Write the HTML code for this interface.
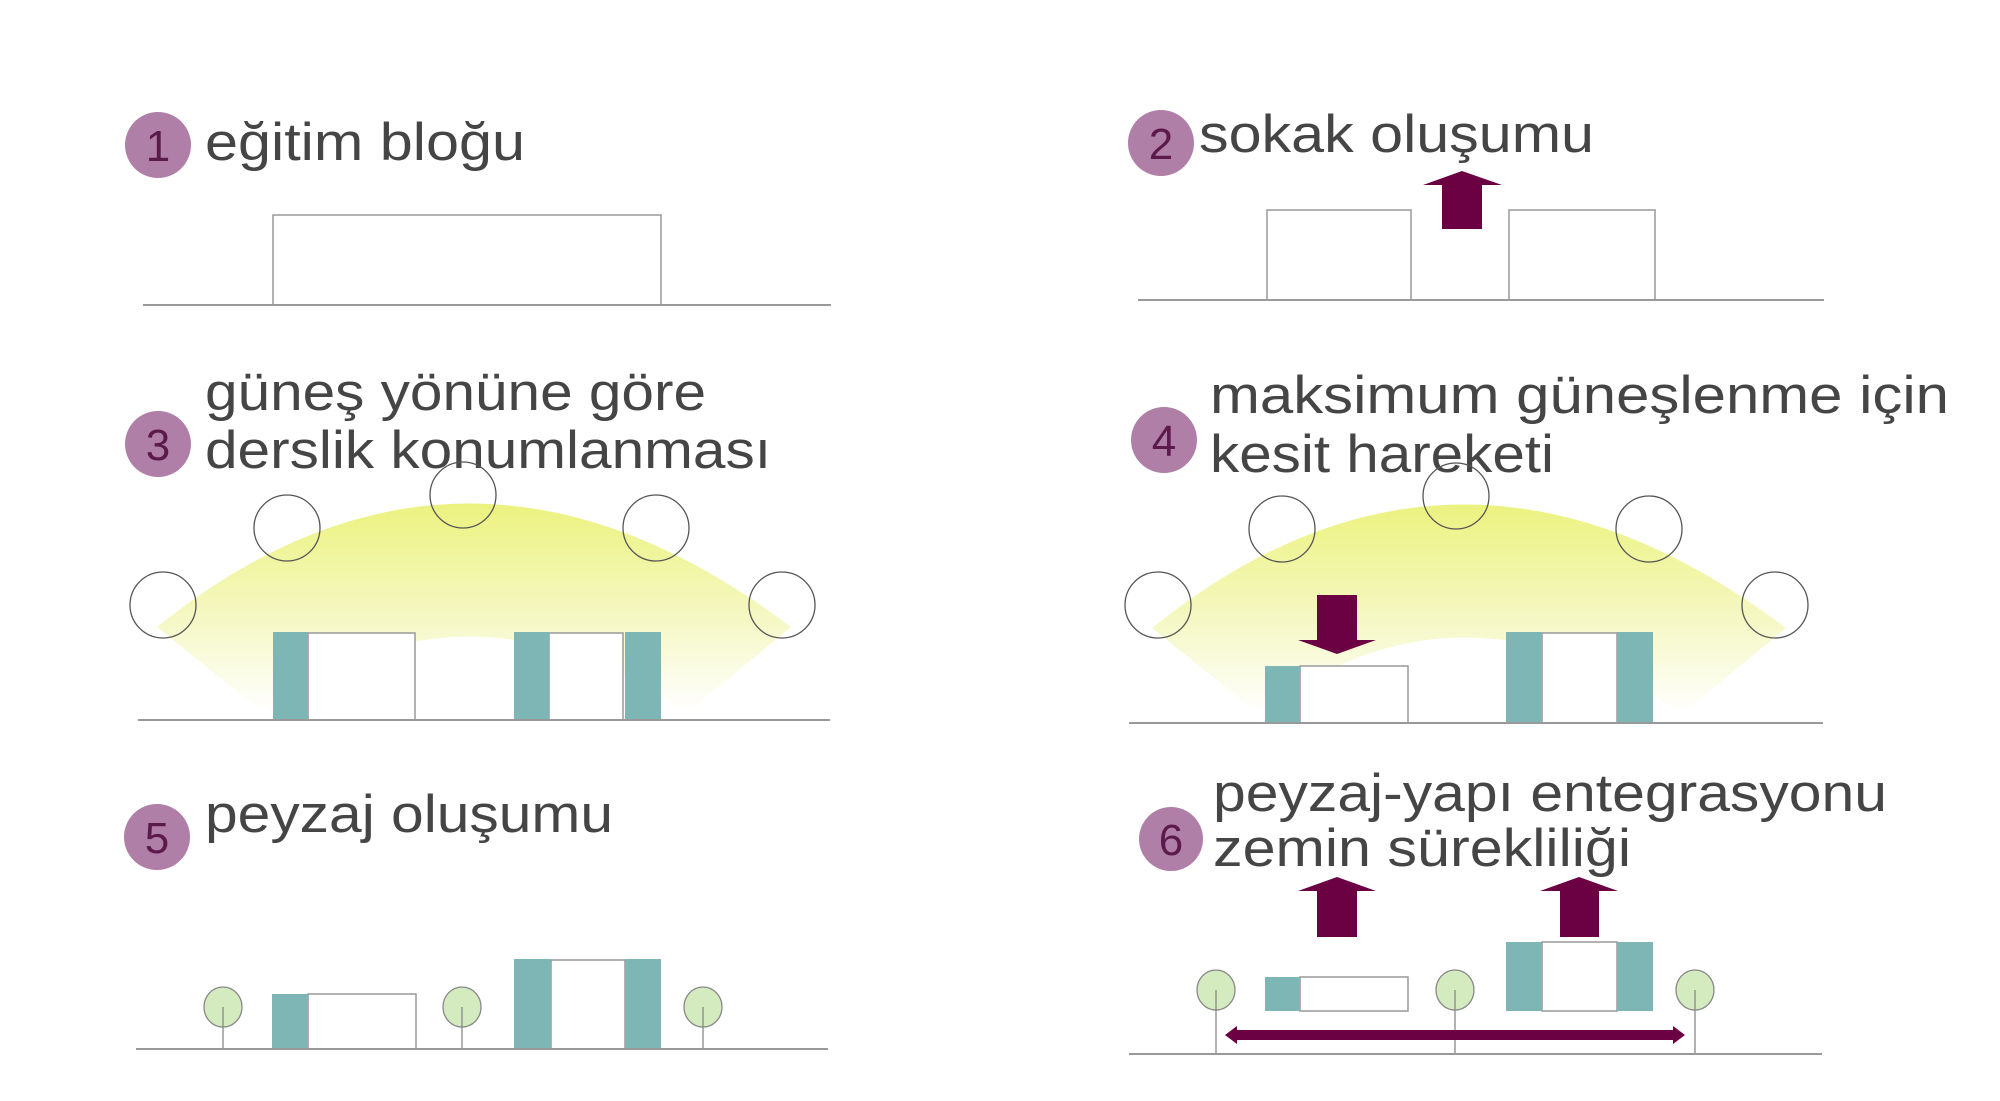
<!DOCTYPE html>
<html><head><meta charset="utf-8"><style>
html,body{margin:0;padding:0;background:#fff;}
svg{display:block;}
text{font-family:"Liberation Sans",sans-serif;fill:#454545;}
.n{fill:#5c1a4c;font-size:44px;text-anchor:middle;}
.t{font-size:53px;}
</style></head><body>
<svg width="2000" height="1101" viewBox="0 0 2000 1101" xmlns="http://www.w3.org/2000/svg">
<defs>
<linearGradient id="g" x1="0" y1="0" x2="0" y2="1">
<stop offset="0" stop-color="#ecf27f"/>
<stop offset="0.55" stop-color="#f5f8c4"/>
<stop offset="1" stop-color="#ffffff"/>
</linearGradient>
<g id="glow">
<path d="M157,627 Q464,380 791,627 L687,713 Q464,560 264,713 Z" fill="url(#g)"/>
</g>
</defs>
<!-- Panel 1 -->
<circle cx="158" cy="145" r="33" fill="#b07fa8"/>
<text class="n" x="158" y="161">1</text>
<text class="t" x="205" y="160" textLength="320" lengthAdjust="spacingAndGlyphs">eğitim bloğu</text>
<rect x="273" y="215" width="388" height="90" fill="#fff" stroke="#999" stroke-width="1.5"/>
<line x1="143" y1="305" x2="831" y2="305" stroke="#999" stroke-width="2"/>

<!-- Panel 2 -->
<circle cx="1161" cy="143" r="33" fill="#b07fa8"/>
<text class="n" x="1161" y="159">2</text>
<text class="t" x="1199" y="152" textLength="395" lengthAdjust="spacingAndGlyphs">sokak oluşumu</text>
<rect x="1267" y="210" width="144" height="90" fill="#fff" stroke="#999" stroke-width="1.5"/>
<rect x="1509" y="210" width="146" height="90" fill="#fff" stroke="#999" stroke-width="1.5"/>
<line x1="1138" y1="300" x2="1824" y2="300" stroke="#999" stroke-width="2"/>
<path d="M1442,229 L1442,185 L1423,185 L1462,171 L1502,185 L1482,185 L1482,229 Z" fill="#6b0042"/>

<!-- Panel 3 -->
<circle cx="158" cy="444" r="33" fill="#b07fa8"/>
<text class="n" x="158" y="460">3</text>
<text class="t" x="205" y="410" textLength="501" lengthAdjust="spacingAndGlyphs">güneş yönüne göre</text>
<text class="t" x="205" y="468" textLength="566" lengthAdjust="spacingAndGlyphs">derslik konumlanması</text>
<use href="#glow"/>
<g fill="none" stroke="#555" stroke-width="1.3">
<circle cx="163" cy="605" r="33"/><circle cx="287" cy="528" r="33"/><circle cx="463" cy="495" r="33"/><circle cx="656" cy="528" r="33"/><circle cx="782" cy="605" r="33"/>
</g>
<rect x="308" y="633" width="107" height="87" fill="#fff" stroke="#999" stroke-width="1.5"/>
<rect x="273" y="632" width="35" height="88" fill="#7eb6b5"/>
<rect x="549" y="633" width="74" height="87" fill="#fff" stroke="#999" stroke-width="1.5"/>
<rect x="514" y="632" width="35" height="88" fill="#7eb6b5"/>
<rect x="625" y="632" width="36" height="88" fill="#7eb6b5"/>
<line x1="138" y1="720" x2="830" y2="720" stroke="#999" stroke-width="2"/>

<!-- Panel 4 -->
<circle cx="1164" cy="440" r="33" fill="#b07fa8"/>
<text class="n" x="1164" y="456">4</text>
<text class="t" x="1210" y="413" textLength="739" lengthAdjust="spacingAndGlyphs">maksimum güneşlenme için</text>
<text class="t" x="1210" y="472" textLength="344" lengthAdjust="spacingAndGlyphs">kesit hareketi</text>
<g transform="translate(995,1)"><use href="#glow"/></g>
<g fill="none" stroke="#555" stroke-width="1.3">
<circle cx="1158" cy="605" r="33"/><circle cx="1282" cy="529" r="33"/><circle cx="1456" cy="496" r="33"/><circle cx="1649" cy="529" r="33"/><circle cx="1775" cy="605" r="33"/>
</g>
<rect x="1300" y="666" width="108" height="57" fill="#fff" stroke="#999" stroke-width="1.5"/>
<rect x="1265" y="666" width="35" height="57" fill="#7eb6b5"/>
<rect x="1542" y="633" width="75" height="90" fill="#fff" stroke="#999" stroke-width="1.5"/>
<rect x="1506" y="632" width="36" height="91" fill="#7eb6b5"/>
<rect x="1617" y="632" width="36" height="91" fill="#7eb6b5"/>
<line x1="1129" y1="723" x2="1823" y2="723" stroke="#999" stroke-width="2"/>
<path d="M1317,595 L1357,595 L1357,640 L1376,640 L1337,654 L1298,640 L1317,640 Z" fill="#6b0042"/>

<!-- Panel 5 -->
<circle cx="157" cy="837" r="33" fill="#b07fa8"/>
<text class="n" x="157" y="853">5</text>
<text class="t" x="205" y="832" textLength="408" lengthAdjust="spacingAndGlyphs">peyzaj oluşumu</text>
<rect x="308" y="994" width="108" height="55" fill="#fff" stroke="#999" stroke-width="1.5"/>
<rect x="272" y="994" width="36" height="55" fill="#7eb6b5"/>
<rect x="551" y="960" width="74" height="89" fill="#fff" stroke="#999" stroke-width="1.5"/>
<rect x="514" y="959" width="37" height="90" fill="#7eb6b5"/>
<rect x="625" y="959" width="36" height="90" fill="#7eb6b5"/>
<g stroke="#888" stroke-width="1.3">
<ellipse cx="223" cy="1007" rx="19" ry="20" fill="#d4ebbf"/><line x1="223" y1="1007" x2="223" y2="1049"/>
<ellipse cx="462" cy="1007" rx="19" ry="20" fill="#d4ebbf"/><line x1="462" y1="1007" x2="462" y2="1049"/>
<ellipse cx="703" cy="1007" rx="19" ry="20" fill="#d4ebbf"/><line x1="703" y1="1007" x2="703" y2="1049"/>
</g>
<line x1="136" y1="1049" x2="828" y2="1049" stroke="#999" stroke-width="2"/>

<!-- Panel 6 -->
<circle cx="1171" cy="839" r="32" fill="#b07fa8"/>
<text class="n" x="1171" y="855">6</text>
<text class="t" x="1213" y="811" textLength="674" lengthAdjust="spacingAndGlyphs">peyzaj-yapı entegrasyonu</text>
<text class="t" x="1213" y="866" textLength="418" lengthAdjust="spacingAndGlyphs">zemin sürekliliği</text>
<path d="M1317,937 L1317,891 L1298,891 L1337,877 L1376,891 L1357,891 L1357,937 Z" fill="#6b0042"/>
<path d="M1560,937 L1560,891 L1540,891 L1579,877 L1618,891 L1599,891 L1599,937 Z" fill="#6b0042"/>
<rect x="1300" y="977" width="108" height="34" fill="#fff" stroke="#999" stroke-width="1.5"/>
<rect x="1265" y="977" width="35" height="34" fill="#7eb6b5"/>
<rect x="1542" y="942" width="75" height="69" fill="#fff" stroke="#999" stroke-width="1.5"/>
<rect x="1506" y="942" width="36" height="69" fill="#7eb6b5"/>
<rect x="1617" y="942" width="36" height="69" fill="#7eb6b5"/>
<g stroke="#888" stroke-width="1.3">
<ellipse cx="1216" cy="990" rx="19" ry="20" fill="#d4ebbf"/><line x1="1216" y1="990" x2="1216" y2="1054"/>
<ellipse cx="1455" cy="990" rx="19" ry="20" fill="#d4ebbf"/><line x1="1455" y1="990" x2="1455" y2="1054"/>
<ellipse cx="1695" cy="990" rx="19" ry="20" fill="#d4ebbf"/><line x1="1695" y1="990" x2="1695" y2="1054"/>
</g>
<path d="M1225,1035 L1237,1026 L1237,1030 L1673,1030 L1673,1026 L1685,1035 L1673,1044 L1673,1040 L1237,1040 L1237,1044 Z" fill="#6b0042"/>
<line x1="1129" y1="1054" x2="1822" y2="1054" stroke="#999" stroke-width="2"/>
</svg>
</body></html>
